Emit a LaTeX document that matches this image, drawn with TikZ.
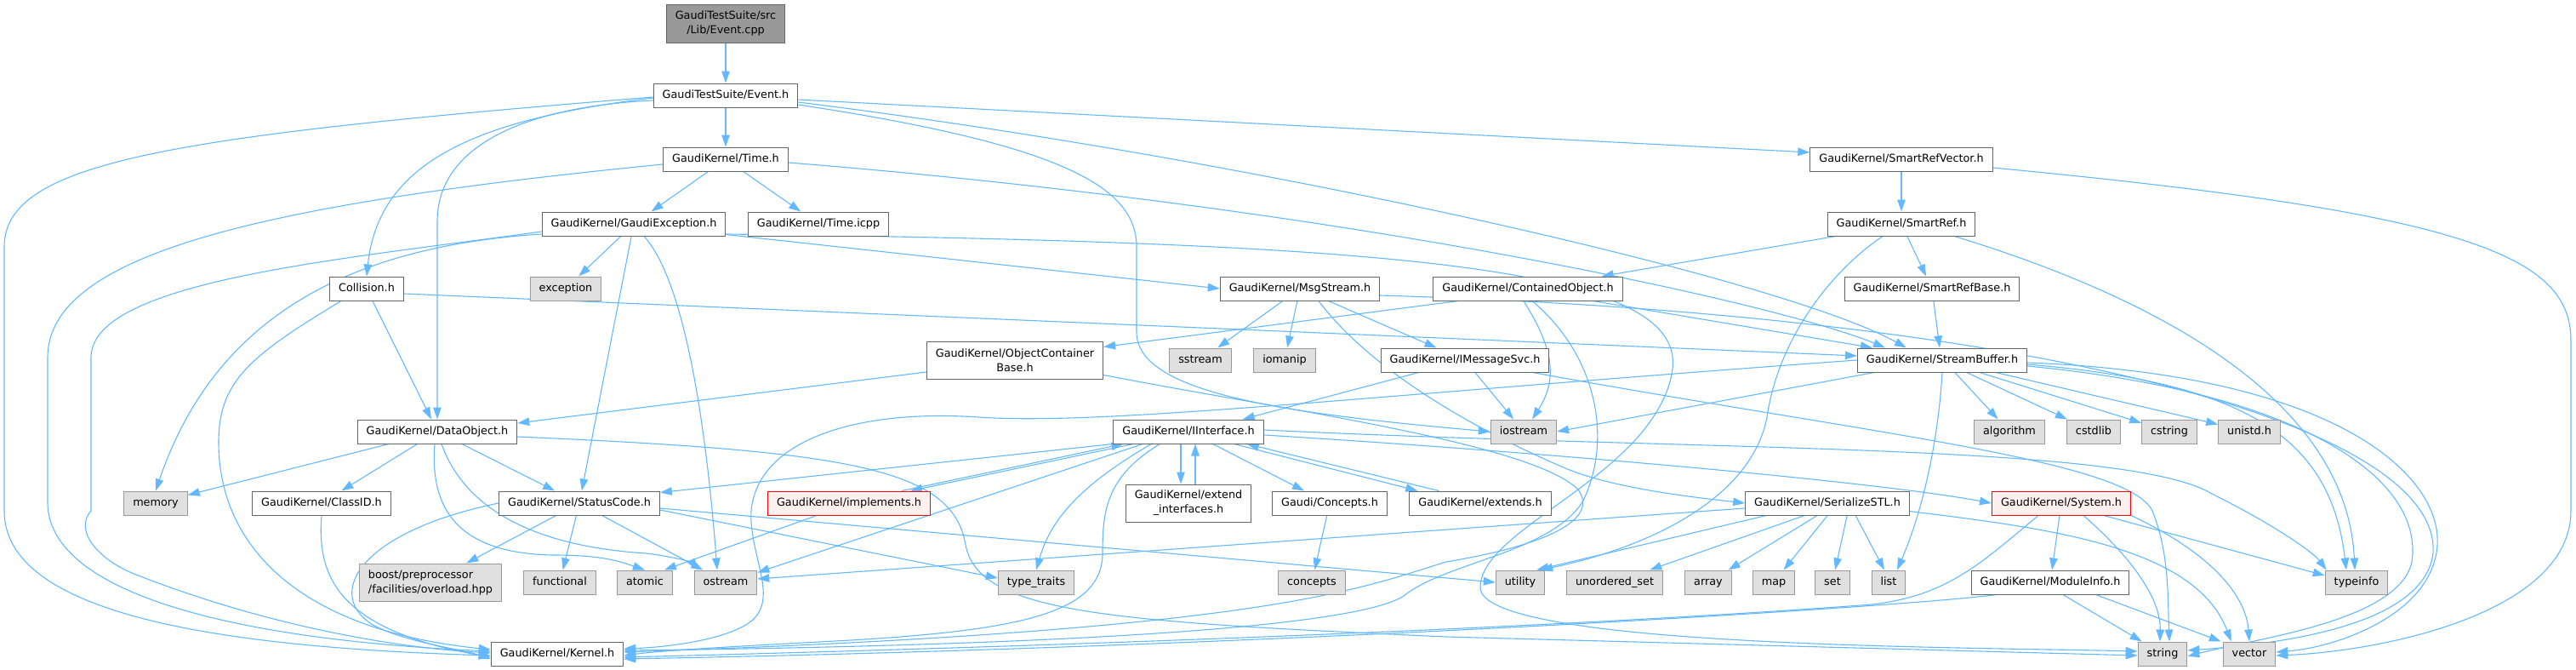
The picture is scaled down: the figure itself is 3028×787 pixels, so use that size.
\documentclass[tikz,border=0pt]{standalone}
\usepackage{fontspec}
\setmainfont{DejaVu Sans}
\usetikzlibrary{arrows.meta,calc,backgrounds}
\definecolor{edgec}{HTML}{63B8FF}
\definecolor{greyA}{HTML}{666666}
\definecolor{greyB}{HTML}{999999}
\definecolor{extfill}{HTML}{E0E0E0}
\definecolor{redfill}{HTML}{FFF0F0}
\begin{document}
\begin{tikzpicture}[x=1pt,y=-1pt,
 base/.style={draw, line width=1pt, inner xsep=10.5pt, inner ysep=2pt, minimum height=28pt, font=\fontsize{12.8}{17}\selectfont},
 one/.style={base, text height=9.6pt, text depth=2.8pt},
 wn/.style={one, draw=greyA, fill=white},
 gn/.style={one, draw=greyB, fill=extfill},
 rn/.style={one, draw=red, fill=redfill},
 wtwo/.style={base, align=center, draw=greyA, fill=white, minimum height=44pt},
 ed/.style={draw=edgec, line width=1.1pt, -{Triangle[length=14pt,width=9.5pt]}}
]
\useasboundingbox (0,0) rectangle (3028,787);
% nodes
\node[base, align=center, draw=greyA, fill=greyB, minimum height=45pt] (root) at (853,27.5) {GaudiTestSuite/src\\/Lib/Event.cpp};
\node[wn] (evh) at (853,112) {GaudiTestSuite/Event.h};
\node[wn] (tim) at (853,187) {GaudiKernel/Time.h};
\node[wn] (srv) at (2235,187) {GaudiKernel/SmartRefVector.h};
\node[wn] (gex) at (745,263) {GaudiKernel/GaudiException.h};
\node[wn] (tic) at (962,263) {GaudiKernel/Time.icpp};
\node[wn] (srf) at (2235,263) {GaudiKernel/SmartRef.h};
\node[wn] (col) at (431,339) {Collision.h};
\node[gn] (exc) at (665,339) {exception};
\node[wn] (msg) at (1528,339) {GaudiKernel/MsgStream.h};
\node[wn] (con) at (1796,339) {GaudiKernel/ContainedObject.h};
\node[wn] (srb) at (2271,339) {GaudiKernel/SmartRefBase.h};
\node[wtwo] (ocb) at (1193,423) {GaudiKernel/ObjectContainer\\Base.h};
\node[gn] (sst) at (1411,423) {sstream};
\node[gn] (iom) at (1510,423) {iomanip};
\node[wn] (ims) at (1722,423) {GaudiKernel/IMessageSvc.h};
\node[wn] (sbu) at (2283,423) {GaudiKernel/StreamBuffer.h};
\node[wn] (dob) at (514,507) {GaudiKernel/DataObject.h};
\node[wn] (iin) at (1397,507) {GaudiKernel/IInterface.h};
\node[gn] (ios) at (1791,507) {iostream};
\node[gn] (alg) at (2362,507) {algorithm};
\node[gn] (csl) at (2461,507) {cstdlib};
\node[gn] (cst) at (2550,507) {cstring};
\node[gn] (uni) at (2644,507) {unistd.h};
\node[gn] (mem) at (183,591) {memory};
\node[wn] (cid) at (378,591) {GaudiKernel/ClassID.h};
\node[wn] (sta) at (681,591) {GaudiKernel/StatusCode.h};
\node[rn] (imp) at (998,591) {GaudiKernel/implements.h};
\node[wtwo] (exi) at (1397,591) {GaudiKernel/extend\\\_interfaces.h};
\node[wn] (cch) at (1563,591) {Gaudi/Concepts.h};
\node[wn] (ext) at (1740,591) {GaudiKernel/extends.h};
\node[wn] (ser) at (2148,591) {GaudiKernel/SerializeSTL.h};
\node[rn] (sys) at (2423,591) {GaudiKernel/System.h};
\node[base, align=left, draw=greyB, fill=extfill, minimum height=44pt] (boo) at (506,684) {boost/preprocessor\\/facilities/overload.hpp};
\node[gn] (fun) at (658,684) {functional};
\node[gn] (ato) at (758,684) {atomic};
\node[gn] (ost) at (853,684) {ostream};
\node[gn] (tty) at (1218,684) {type\_traits};
\node[gn] (cpt) at (1542,684) {concepts};
\node[gn] (uti) at (1787,684) {utility};
\node[gn] (use) at (1898,684) {unordered\_set};
\node[gn] (arr) at (2008,684) {array};
\node[gn] (map) at (2085,684) {map};
\node[gn] (set) at (2154,684) {set};
\node[gn] (lst) at (2220,684) {list};
\node[wn] (mod) at (2410,684) {GaudiKernel/ModuleInfo.h};
\node[gn] (tyi) at (2770,684) {typeinfo};
\node[wn] (ker) at (655,768) {GaudiKernel/Kernel.h};
\node[gn] (str) at (2542,768) {string};
\node[gn] (vec) at (2644,768) {vector};
% edges
\begin{scope}[on background layer]
\draw[ed] (root) -- (evh);
\draw[ed] (evh) -- (tim);
\draw[ed] ($(evh.east)+(0,5)$) -- ($(srv.west)+(0,-8)$);
\draw[ed] ($(evh.west)+(0,3)$) .. controls (560,140) and (445,190) .. (col.north);
\draw[ed] ($(evh.west)+(0,6)$) .. controls (620,125) and (514,170) .. (514,260) -- (dob.north);
\draw[ed] ($(evh.west)+(0,2)$) .. controls (200,160) and (5,190) .. (5,290) -- (5,600) .. controls (5,720) and (250,760) .. ($(ker.west)+(0,2)$);
\draw[ed] ($(evh.east)+(0,8)$) .. controls (1500,190) and (2100,330) .. ($(sbu.north west)+(58,0)$);
\draw[ed] ($(evh.east)+(0,11)$) .. controls (1250,170) and (1336,220) .. (1336,290) -- (1336,390) .. controls (1336,460) and (1500,485) .. (ios.west);
\draw[ed] (tim) -- (gex);
\draw[ed] (tim) -- (tic);
\draw[ed] ($(tim.west)+(0,6)$) .. controls (300,240) and (56,300) .. (56,420) -- (56,590) .. controls (56,690) and (250,750) .. ($(ker.west)+(0,-3)$);
\draw[ed] ($(tim.east)+(0,4)$) .. controls (1600,245) and (2100,360) .. ($(sbu.north west)+(33,0)$);
\draw[ed] (gex) -- (exc);
\draw[ed] (gex) -- (sta);
\draw[ed] ($(gex.south)+(12,0)$) .. controls (805,330) and (830,500) .. ($(ost.north)+(-10,0)$);
\draw[ed] ($(gex.south east)+(0,-2)$) -- (msg.west);
\draw[ed] ($(gex.west)+(0,12)$) .. controls (400,290) and (250,380) .. (mem.north);
\draw[ed] ($(gex.west)+(0,9)$) .. controls (400,305) and (107,330) .. (107,420) -- (107,600) .. controls (85,625) and (120,660) .. (160,675) .. controls (300,730) and (450,760) .. ($(ker.west)+(0,-1)$);
\draw[ed] ($(gex.east)+(0,12)$) .. controls (1700,285) and (1990,320) .. (1965,440) .. controls (1940,560) and (1740,620) .. (1740,690) .. controls (1740,760) and (2300,760) .. ($(str.west)+(0,-3)$);
\draw[ed] (srv) -- (srf);
\draw[ed] ($(srv.east)+(0,10)$) .. controls (2900,250) and (3022,300) .. (3022,400) -- (3022,600) .. controls (3022,720) and (2800,765) .. ($(vec.east)+(0,2)$);
\draw[ed] ($(srf.south west)+(10,0)$) -- ($(con.north east)+(-25,0)$);
\draw[ed] (srf) -- (srb);
\draw[ed] ($(srf.south east)+(-25,0)$) .. controls (2600,370) and (2760,500) .. ($(tyi.north)+(-2,0)$);
\draw[ed] ($(srf.south)+(-22,0)$) .. controls (2150,320) and (2090,400) .. (2077,490) .. controls (2060,580) and (1950,640) .. ($(uti.north east)+(-5,0)$);
\draw[ed] ($(col.south)+(7,0)$) -- ($(dob.north)+(-7,0)$);
\draw[ed] ($(col.south)+(-30,0)$) .. controls (290,420) and (257,450) .. (257,520) .. controls (257,640) and (350,740) .. ($(ker.west)+(0,-5)$);
\draw[ed] ($(col.east)+(0,6)$) -- ($(sbu.west)+(0,-5)$);
\draw[ed] (msg) -- (sst);
\draw[ed] (msg) -- (iom);
\draw[ed] (msg) -- (ims);
\draw[ed] ($(msg.south)+(22,0)$) .. controls (1600,420) and (1700,490) .. (1840,550) .. controls (1900,575) and (2000,585) .. (ser.west);
\draw[ed] ($(msg.east)+(0,8)$) .. controls (2400,370) and (2870,500) .. (2860,650) .. controls (2850,730) and (2700,755) .. ($(str.east)+(0,-4)$);
\draw[ed] ($(con.south west)+(30,0)$) -- ($(ocb.north east)+(0,7)$);
\draw[ed] ($(con.south east)+(-35,0)$) -- ($(sbu.north west)+(18,0)$);
\draw[ed] ($(con.south)+(-5,0)$) .. controls (1820,400) and (1835,440) .. ($(ios.north)+(10,0)$);
\draw[ed] ($(con.south)+(5,0)$) .. controls (1880,420) and (1895,520) .. (1860,590) .. controls (1820,650) and (1700,660) .. (1650,700) .. controls (1580,745) and (1100,760) .. ($(ker.east)+(0,-4)$);
\draw[ed] (srb) -- ($(sbu.north)+(-3,0)$);
\draw[ed] ($(ocb.west)+(0,14)$) -- ($(dob.east)+(0,-10)$);
\draw[ed] ($(ocb.south east)+(0,-5)$) .. controls (1500,480) and (1800,520) .. (1855,575) .. controls (1880,610) and (1820,640) .. (1700,660) .. controls (1600,690) and (1500,740) .. ($(ker.east)+(0,-2)$);
\draw[ed] (ims) -- ($(iin.north east)+(-25,0)$);
\draw[ed] (ims) -- (ios);
\draw[ed] ($(ims.south east)+(-20,0)$) .. controls (2200,510) and (2500,540) .. (2530,600) .. controls (2550,650) and (2548,700) .. ($(str.north)+(8,0)$);
\draw[ed] ($(sbu.south west)+(115,0)$) -- (alg);
\draw[ed] ($(sbu.south west)+(129,0)$) -- (csl);
\draw[ed] ($(sbu.south west)+(144,0)$) -- (cst);
\draw[ed] ($(sbu.south west)+(163,0)$) -- (uni);
\draw[ed] (sbu.south) .. controls (2278,520) and (2260,600) .. ($(lst.north)+(10,0)$);
\draw[ed] ($(sbu.south west)+(20,0)$) -- (ios.east);
\draw[ed] (sbu.west) .. controls (1600,465) and (1300,500) .. (1150,490) .. controls (1000,480) and (890,520) .. (883,600) .. controls (880,650) and (915,700) .. (885,728) .. controls (860,750) and (790,760) .. ($(ker.east)+(0,-6)$);
\draw[ed] ($(sbu.east)+(0,5)$) .. controls (2650,450) and (2740,520) .. ($(tyi.north)+(-12,0)$);
\draw[ed] ($(sbu.east)+(0,3)$) .. controls (2750,440) and (2870,560) .. (2865,640) .. controls (2860,720) and (2750,760) .. ($(vec.east)+(0,-2)$);
\draw[ed] ($(sbu.east)+(0,7)$) .. controls (2700,460) and (2850,560) .. (2835,660) .. controls (2820,730) and (2650,750) .. ($(str.east)+(0,3)$);
\draw[ed] (dob) -- (mem);
\draw[ed] (dob) -- (cid);
\draw[ed] (dob) -- (sta);
\draw[ed] ($(dob.south)+(-3,0)$) .. controls (505,600) and (540,650) .. (650,652) .. controls (710,652) and (730,660) .. (ato.north);
\draw[ed] ($(dob.south)+(5,0)$) .. controls (540,580) and (600,640) .. (760,650) .. controls (800,655) and (815,662) .. ($(ost.north west)+(5,0)$);
\draw[ed] ($(dob.east)+(0,6)$) .. controls (1000,530) and (1120,550) .. (1135,640) .. controls (1150,720) and (1300,730) .. (1700,748) -- ($(str.west)+(0,2)$);
\draw[ed] (cid.south) .. controls (372,680) and (400,740) .. ($(ker.west)+(0,4)$);
\draw[ed] (sta.west) .. controls (420,625) and (380,700) .. (440,735) .. controls (480,755) and (540,762) .. ($(ker.west)+(0,6)$);
\draw[ed] (sta) -- (boo);
\draw[ed] (sta) -- (fun);
\draw[ed] (sta) -- (ost);
\draw[ed] ($(sta.east)+(0,8)$) -- ($(tty.west)+(0,-5)$);
\draw[ed] ($(sta.east)+(0,6)$) -- (uti.west);
\draw[ed] ($(imp.north east)+(-34,0)$) -- ($(iin.south west)+(12,0)$);
\draw[ed] ($(iin.south west)+(24,0)$) -- ($(imp.north east)+(-24,0)$);
\draw[ed] ($(imp.south west)+(58,0)$) -- ($(ato.north east)+(-10,0)$);
\draw[ed] (iin.south west) -- ($(sta.north east)+(0,2)$);
\draw[ed] ($(iin.south west)+(35,0)$) -- ($(ost.north east)+(0,3)$);
\draw[ed] ($(iin.south west)+(55,0)$) .. controls (1300,560) and (1296,600) .. (1296,650) .. controls (1296,720) and (1200,740) .. (1000,752) .. controls (850,760) and (780,764) .. ($(ker.east)+(0,2)$);
\draw[ed] ($(iin.south west)+(45,0)$) .. controls (1270,570) and (1235,610) .. (tty.north);
\draw[ed] ($(iin.south)+(-9,0)$) -- ($(exi.north)+(-9,0)$);
\draw[ed] ($(exi.north)+(8,0)$) -- ($(iin.south)+(8,0)$);
\draw[ed] ($(iin.south east)+(-60,0)$) -- ($(cch.north)+(-30,0)$);
\draw[ed] ($(iin.south east)+(-35,0)$) -- ($(ext.north west)+(10,0)$);
\draw[ed] ($(ext.north west)+(35,0)$) -- ($(iin.south east)+(-20,0)$);
\draw[ed] ($(iin.east)+(0,4)$) .. controls (1800,530) and (2200,565) .. (sys.west);
\draw[ed] ($(iin.east)+(0,-2)$) .. controls (2000,530) and (2500,520) .. (2600,580) .. controls (2680,620) and (2720,650) .. ($(tyi.north west)+(2,0)$);
\draw[ed] (cch) -- (cpt);
\draw[ed] ($(ser.west)+(0,6)$) -- ($(ost.east)+(0,-4)$);
\draw[ed] ($(ser.south west)+(25,0)$) -- ($(uti.north east)+(-10,0)$);
\draw[ed] ($(ser.south west)+(70,0)$) -- (use);
\draw[ed] ($(ser.south west)+(85,0)$) -- (arr);
\draw[ed] ($(ser.south west)+(97,0)$) -- (map);
\draw[ed] ($(ser.south west)+(120,0)$) -- (set);
\draw[ed] ($(ser.south west)+(130,0)$) -- ($(lst.north)+(-5,0)$);
\draw[ed] ($(ser.south east)+(0,-5)$) .. controls (2400,620) and (2580,640) .. ($(vec.north west)+(10,0)$);
\draw[ed] ($(sys.south west)+(55,0)$) .. controls (2330,660) and (2290,700) .. (2200,710) .. controls (1800,740) and (1200,760) .. ($(ker.east)+(0,4)$);
\draw[ed] (sys) -- (mod);
\draw[ed] ($(sys.south)+(26,0)$) .. controls (2500,650) and (2540,700) .. ($(str.north)+(-3,0)$);
\draw[ed] ($(sys.south east)+(0,0)$) .. controls (2600,650) and (2640,700) .. (vec.north);
\draw[ed] ($(sys.south)+(50,0)$) -- ($(tyi.west)+(0,-8)$);
\draw[ed] ($(mod.south west)+(30,0)$) .. controls (2250,712) and (1500,760) .. ($(ker.east)+(0,6)$);
\draw[ed] ($(mod.south)+(15,0)$) -- ($(str.north west)+(5,0)$);
\draw[ed] ($(mod.south east)+(-40,0)$) -- ($(vec.north west)+(-2,0)$);
\end{scope}
\end{tikzpicture}
\end{document}
